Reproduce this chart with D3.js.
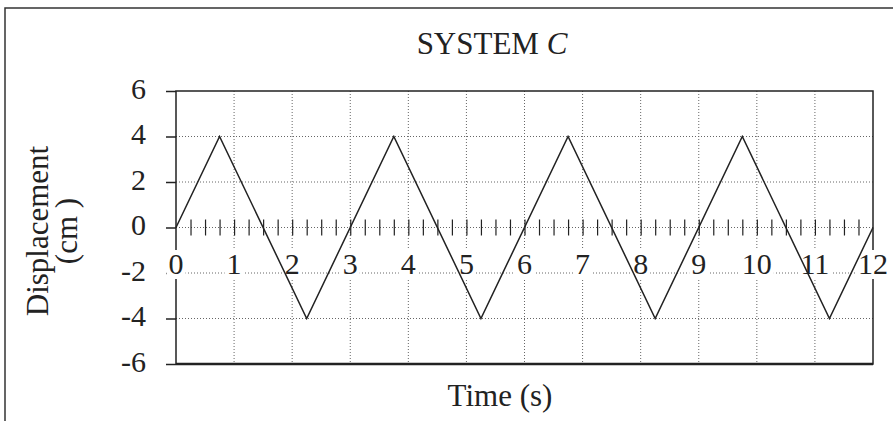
<!DOCTYPE html>
<html>
<head>
<meta charset="utf-8">
<script src="https://cdn.jsdelivr.net/npm/d3@7"></script>
<style>
 body { margin: 0; background: #fff; }
 svg text { font-family: "Liberation Serif", "Times New Roman", serif; fill: #222; }
</style>
</head>
<body>
<div id="chart"></div>
<script>
// data
var times = [0, 0.75, 2.25, 3.75, 5.25, 6.75, 8.25, 9.75, 11.25, 12];
var displacement = [0, 4, -4, 4, -4, 4, -4, 4, -4, 0];
var xTickLabels = [0, 1, 2, 3, 4, 5, 6, 7, 8, 9, 10, 11, 12];
var xMinorTicks = [0.25, 0.5, 0.75, 1, 1.25, 1.5, 1.75, 2, 2.25, 2.5, 2.75, 3, 3.25, 3.5, 3.75, 4,
  4.25, 4.5, 4.75, 5, 5.25, 5.5, 5.75, 6, 6.25, 6.5, 6.75, 7, 7.25, 7.5, 7.75, 8,
  8.25, 8.5, 8.75, 9, 9.25, 9.5, 9.75, 10, 10.25, 10.5, 10.75, 11, 11.25, 11.5, 11.75];
var yTickLabels = [-6, -4, -2, 0, 2, 4, 6];

var W = 893, H = 421;
var margin = {top: 91, right: 20, bottom: 57, left: 176},
    width = W - margin.left - margin.right,
    height = H - margin.top - margin.bottom;
var fs = 30, fsTitle = 31;

var svg = d3.select("#chart")
  .append("svg")
  .attr("width", W)
  .attr("height", H);

// outer frame (cut off at right and bottom)
svg.append("rect")
  .attr("x", 5).attr("y", 8)
  .attr("width", W + 10).attr("height", H + 10)
  .attr("fill", "none").attr("stroke", "#333").attr("stroke-width", 1.5);

svg.append("text")
  .attr("x", 492).attr("y", 54)
  .attr("text-anchor", "middle")
  .style("font-size", fsTitle + "px")
  .call(function(t) {
    t.append("tspan").text("SYSTEM ");
    t.append("tspan").style("font-style", "italic").text("C");
  });

var g = svg.append("g")
  .attr("transform", "translate(" + margin.left + "," + margin.top + ")");

var x = d3.scaleLinear().domain([0, 12]).range([0, width]);
var y = d3.scaleLinear().domain([-6, 6]).range([height, 0]);

// dotted grid
g.selectAll(".vgrid")
  .data(xTickLabels.filter(function(d) { return d > 0 && d < 12; }))
  .enter().append("line")
  .attr("x1", function(d) { return x(d); }).attr("x2", function(d) { return x(d); })
  .attr("y1", 0).attr("y2", height)
  .attr("stroke", "#666").attr("stroke-dasharray", "1,2");

g.selectAll(".hgrid")
  .data(yTickLabels.filter(function(d) { return d > -6 && d < 6; }))
  .enter().append("line")
  .attr("x1", 0).attr("x2", width)
  .attr("y1", function(d) { return y(d); }).attr("y2", function(d) { return y(d); })
  .attr("stroke", "#666").attr("stroke-dasharray", "1,2");

// small ticks crossing the zero line
g.append("g")
  .attr("transform", "translate(0," + (y(0) - 8) + ")")
  .call(d3.axisBottom(x).tickValues(xMinorTicks).tickSize(16).tickFormat(""))
  .call(function(a) { a.select(".domain").remove(); })
  .selectAll("line").attr("stroke", "#222").attr("stroke-width", 1.2);

// plot frame
g.append("rect")
  .attr("width", width).attr("height", height)
  .attr("fill", "none").attr("stroke", "#222").attr("stroke-width", 1.5);
g.append("line")
  .attr("x1", 0).attr("x2", width).attr("y1", height).attr("y2", height)
  .attr("stroke", "#222").attr("stroke-width", 2.5);

// y axis
g.append("g")
  .call(d3.axisLeft(y).tickValues(yTickLabels).tickSize(10).tickPadding(20)
    .tickFormat(function(d) { return String(d); }))
  .call(function(a) { a.select(".domain").remove(); })
  .call(function(a) {
    a.selectAll("line").attr("stroke", "#222").attr("stroke-width", 1.5);
    a.selectAll("text").style("font-size", fs + "px").attr("fill", "#222")
      .attr("dy", "0.24em")
      .style("font-family", "Liberation Serif");
  });

// x labels sit on white boxes around the -2 line
var xl = g.append("g").attr("class", "xlabels");
xTickLabels.forEach(function(d) {
  var lg = xl.append("g");
  var t = lg.append("text")
    .attr("x", x(d)).attr("y", y(-2) + 1)
    .attr("text-anchor", "middle")
    .style("font-size", fs + "px")
    .text(d);
  var b = t.node().getBBox();
  lg.insert("rect", "text")
    .attr("x", b.x - 2).attr("y", b.y + 3)
    .attr("width", b.width + 4).attr("height", b.height - 4)
    .attr("fill", "#fff");
});

// the wave
var line = d3.line()
  .x(function(d, i) { return x(times[i]); })
  .y(function(d) { return y(d); });
g.append("path")
  .datum(displacement)
  .attr("d", line)
  .attr("fill", "none").attr("stroke", "#222").attr("stroke-width", 1.5);

// axis titles
svg.append("text")
  .attr("x", 500).attr("y", 406)
  .attr("text-anchor", "middle")
  .style("font-size", fsTitle + "px")
  .text("Time (s)");

var yt = svg.append("text")
  .attr("transform", "translate(48,231) rotate(-90)")
  .attr("text-anchor", "middle")
  .style("font-size", fsTitle + "px");
yt.append("tspan").attr("x", 0).attr("dy", 0).text("Displacement");
yt.append("tspan").attr("x", 0).attr("dy", "0.95em").text("(cm )");
</script>
</body>
</html>
